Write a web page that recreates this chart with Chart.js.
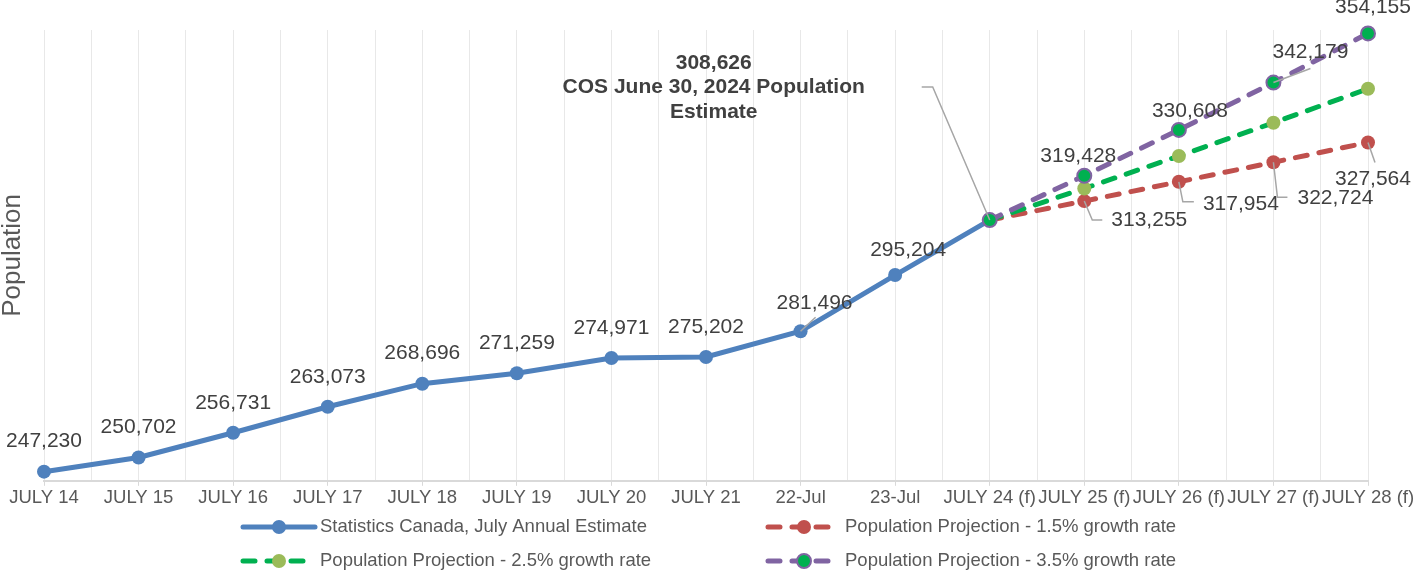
<!DOCTYPE html>
<html>
<head>
<meta charset="utf-8">
<title>Population</title>
<script src="https://cdn.jsdelivr.net/npm/chart.js@4.4.1/dist/chart.umd.min.js"></script>
<style>
    html, body { margin: 0; padding: 0; background: #ffffff; }
    #wrap { width: 1418px; height: 577px; }
</style>
</head>
<body>
<div id="wrap"><canvas id="popChart" width="1418" height="577"></canvas></div>
<script>
const years = [
    'JULY 14', 'JULY 15', 'JULY 16', 'JULY 17', 'JULY 18', 'JULY 19', 'JULY 20',
    'JULY 21', '22-Jul', '23-Jul', 'JULY 24 (f)', 'JULY 25 (f)', 'JULY 26 (f)',
    'JULY 27 (f)', 'JULY 28 (f)'
];

// July annual estimates (last one is the June 30, 2024 estimate)
const statsCanada = [247230, 250702, 256731, 263073, 268696, 271259, 274971, 275202, 281496, 295204, 308626];

// projections start from the 2024 estimate (JULY 24 (f))
const projStart = 10;
const growth15 = [308626, 313255, 317954, 322724, 327564];
const growth25 = [308626, 316342, 324250, 332357, 340665];
const growth35 = [308626, 319428, 330608, 342179, 354155];

const annotationText = ['COS June 30, 2024 Population', 'Estimate'];

const fontFamily = '"Liberation Sans", Arial, sans-serif';

function toPoints(values, start) {
    return values.map(function(v, i) {
        return { x: start + i, y: v };
    });
}

function fmt(v) {
    return v.toLocaleString('en-US');
}

// label offsets (px) from each point, plus optional leader lines
const above = { dx: 0, dy: -30 };
const labelPlace = {
    stats: {
        0: above, 1: above, 2: above, 3: above, 4: above, 5: above, 6: above, 7: above,
        8: { dx: 14, dy: -28, leader: [[0, 0], [15, -14]] },
        9: { dx: 13, dy: -25 }
    },
    g15: {
        1: { dx: 65, dy: 19, leader: [[0, 0], [8, 19], [18, 19]] },
        2: { dx: 62, dy: 22, leader: [[0, 0], [4, 20], [15, 20]] },
        3: { dx: 62, dy: 36, leader: [[0, 0], [4, 35], [14, 35]] },
        4: { dx: 5, dy: 37, leader: [[0, 0], [7, 20]] }
    },
    g25: {},
    g35: {
        1: { dx: -6, dy: -20 },
        2: { dx: 11, dy: -19 },
        3: { dx: 37, dy: -30, leader: [[0, 0], [37, -14]] },
        4: { dx: 5, dy: -26 }
    }
};

const annotationPlace = { dx: -276, dy: -157, lineGap: 24.5, leader: [[-68, -133], [-57, -133], [0, 0]] };

const valueLabels = {
    id: 'valueLabels',
    afterDatasetsDraw(chart) {
        const ctx = chart.ctx;
        ctx.save();
        ctx.textAlign = 'center';
        ctx.textBaseline = 'middle';
        chart.data.datasets.forEach(function(ds, di) {
            const meta = chart.getDatasetMeta(di);
            const place = labelPlace[ds.key] || {};
            meta.data.forEach(function(pt, i) {
                const p = place[i];
                if (!p) return;
                if (p.leader) {
                    ctx.strokeStyle = '#a6a6a6';
                    ctx.lineWidth = 1.5;
                    ctx.beginPath();
                    p.leader.forEach(function(q, k) {
                        if (k === 0) ctx.moveTo(pt.x + q[0], pt.y + q[1]);
                        else ctx.lineTo(pt.x + q[0], pt.y + q[1]);
                    });
                    ctx.stroke();
                }
                ctx.fillStyle = '#404040';
                ctx.font = '21px ' + fontFamily;
                ctx.fillText(fmt(ds.data[i].y), pt.x + p.dx, pt.y + p.dy);
            });
        });

        // bold callout on the 2024 estimate
        const meta0 = chart.getDatasetMeta(0);
        const last = meta0.data[statsCanada.length - 1];
        const a = annotationPlace;
        ctx.strokeStyle = '#a6a6a6';
        ctx.lineWidth = 1.5;
        ctx.beginPath();
        a.leader.forEach(function(q, k) {
            if (k === 0) ctx.moveTo(last.x + q[0], last.y + q[1]);
            else ctx.lineTo(last.x + q[0], last.y + q[1]);
        });
        ctx.stroke();
        ctx.fillStyle = '#404040';
        ctx.font = 'bold 21px ' + fontFamily;
        const lines = [fmt(statsCanada[statsCanada.length - 1])].concat(annotationText);
        lines.forEach(function(t, k) {
            ctx.fillText(t, last.x + a.dx, last.y + a.dy + k * a.lineGap);
        });
        ctx.restore();
    }
};

// two-column legend under the axis
const legendGrid = {
    id: 'legendGrid',
    afterDraw(chart) {
        const ctx = chart.ctx;
        const cols = [243, 768];
        const rows = [527, 561];
        ctx.save();
        chart.data.datasets.forEach(function(ds, n) {
            const x = cols[n % 2];
            const y = rows[Math.floor(n / 2)];
            ctx.strokeStyle = ds.borderColor;
            ctx.lineWidth = 5;
            ctx.lineCap = 'round';
            ctx.setLineDash(ds.borderDash || []);
            ctx.beginPath();
            ctx.moveTo(x, y);
            ctx.lineTo(x + 72, y);
            ctx.stroke();
            ctx.setLineDash([]);
            ctx.beginPath();
            ctx.arc(x + 36, y, 7, 0, Math.PI * 2);
            ctx.fillStyle = ds.pointBackgroundColor;
            ctx.fill();
            if (ds.pointBorderWidth) {
                ctx.lineWidth = ds.pointBorderWidth;
                ctx.strokeStyle = ds.pointBorderColor;
                ctx.stroke();
            }
            ctx.fillStyle = '#595959';
            ctx.font = '18.5px ' + fontFamily;
            ctx.textAlign = 'left';
            ctx.textBaseline = 'middle';
            ctx.fillText(ds.label, x + 77, y);
        });
        ctx.restore();
    }
};

const dashed = [12, 12];

new Chart(document.getElementById('popChart'), {
    type: 'line',
    data: {
        datasets: [{
            key: 'stats',
            label: 'Statistics Canada, July Annual Estimate',
            data: toPoints(statsCanada, 0),
            borderColor: '#4F81BD',
            backgroundColor: '#4F81BD',
            pointBackgroundColor: '#4F81BD',
            pointBorderWidth: 0,
            pointRadius: 7,
            borderWidth: 5,
            order: 3
        }, {
            key: 'g15',
            label: 'Population Projection - 1.5% growth rate',
            data: toPoints(growth15, projStart),
            borderColor: '#C0504D',
            backgroundColor: '#C0504D',
            pointBackgroundColor: '#C0504D',
            pointBorderWidth: 0,
            pointRadius: 7,
            borderWidth: 5,
            borderDash: dashed,
            borderCapStyle: 'round',
            order: 2
        }, {
            key: 'g25',
            label: 'Population Projection - 2.5% growth rate',
            data: toPoints(growth25, projStart),
            borderColor: '#00B050',
            backgroundColor: '#9BBB59',
            pointBackgroundColor: '#9BBB59',
            pointBorderWidth: 0,
            pointRadius: 7,
            borderWidth: 5,
            borderDash: dashed,
            borderCapStyle: 'round',
            order: 1
        }, {
            key: 'g35',
            label: 'Population Projection - 3.5% growth rate',
            data: toPoints(growth35, projStart),
            borderColor: '#8064A2',
            backgroundColor: '#00B050',
            pointBackgroundColor: '#00B050',
            pointBorderColor: '#8064A2',
            pointBorderWidth: 2,
            pointRadius: 7,
            borderWidth: 5,
            borderDash: dashed,
            borderCapStyle: 'round',
            order: 0
        }]
    },
    options: {
        responsive: false,
        animation: false,
        clip: false,
        layout: {
            padding: { left: 0, top: 30, right: 50, bottom: 67 }
        },
        plugins: {
            legend: { display: false },
            tooltip: { enabled: false }
        },
        scales: {
            x: {
                type: 'linear',
                min: 0,
                max: years.length - 1,
                grid: {
                    color: '#e8e8e8',
                    lineWidth: 1,
                    tickLength: 5,
                    tickColor: function(c) {
                        return Number.isInteger(c.tick.value) ? '#d9d9d9' : 'rgba(0,0,0,0)';
                    }
                },
                border: { color: '#d9d9d9', width: 2 },
                ticks: {
                    stepSize: 0.5,
                    autoSkip: false,
                    maxRotation: 0,
                    padding: 1,
                    color: '#595959',
                    font: { family: fontFamily, size: 18.5 },
                    callback: function(v) {
                        return Number.isInteger(v) ? years[v] : '';
                    }
                }
            },
            y: {
                min: 245000,
                max: 355000,
                grid: { display: false },
                border: { display: false },
                ticks: { display: false },
                title: {
                    display: true,
                    text: 'Population',
                    color: '#595959',
                    font: { family: fontFamily, size: 26, lineHeight: 1 },
                    padding: { top: 0, bottom: 10 }
                }
            }
        }
    },
    plugins: [valueLabels, legendGrid]
});
</script>
</body>
</html>
